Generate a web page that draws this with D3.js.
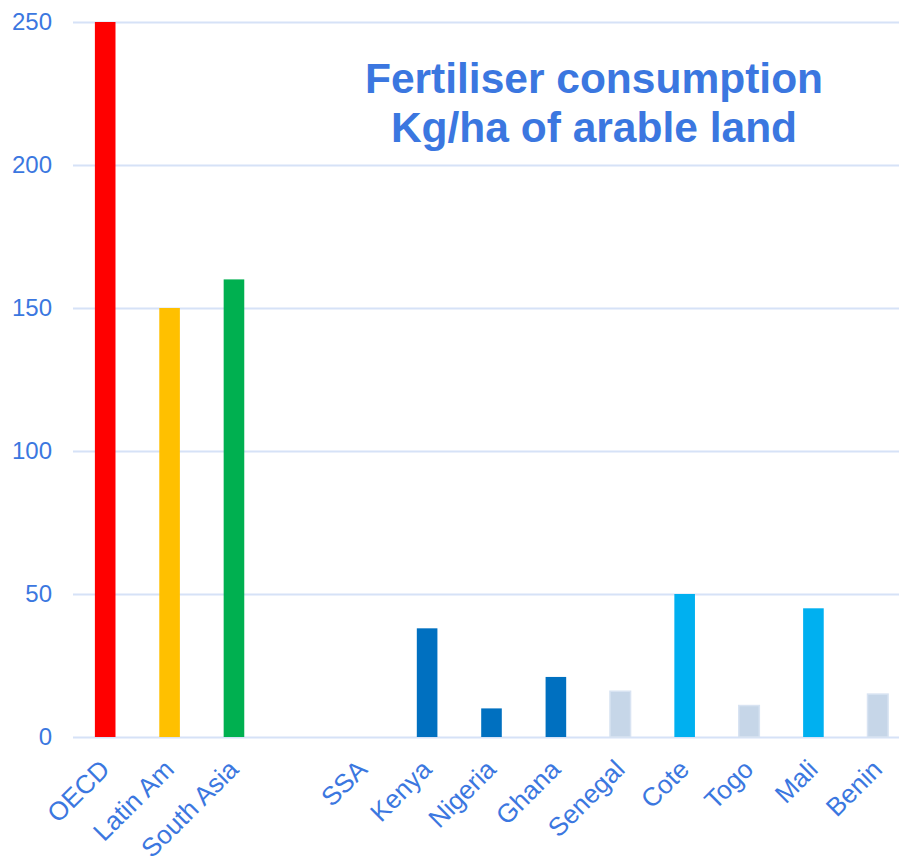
<!DOCTYPE html>
<meta charset="utf-8">
<style>
body { margin: 0; background: #fff; }
svg { font-family: "Liberation Sans", Arial, sans-serif; }
.axis text { fill: #3b77e0; font-size: 24px; }
.axis.xaxis text { font-size: 26px; }
.grid line { stroke: #d6e2f7; stroke-width: 2; }
.title { fill: #3b77e0; font-size: 42.5px; font-weight: bold; }
</style>
<svg width="899" height="858"></svg>
<script src="https://d3js.org/d3.v7.min.js"></script>
<script>

// data
var categories = ["OECD", "Latin Am", "South Asia", "", "SSA", "Kenya", "Nigeria", "Ghana", "Senegal", "Cote", "Togo", "Mali", "Benin"];
var values = [250, 150, 160, null, 0, 38, 10, 21, 16, 50, 11, 45, 15];
var yTicks = [0, 50, 100, 150, 200, 250];
var titleLines = ["Fertiliser consumption", "Kg/ha of arable land"];

var colour = {
  "OECD": "#ff0000", "Latin Am": "#ffc000", "South Asia": "#00b050",
  "SSA": "#0070c0", "Kenya": "#0070c0", "Nigeria": "#0070c0", "Ghana": "#0070c0",
  "Senegal": "#c6d6e8", "Togo": "#c6d6e8", "Benin": "#c6d6e8",
  "Cote": "#00b0f0", "Mali": "#00b0f0"
};

var svg = d3.select("svg"),
    plotLeft = 73, plotRight = 910, plotTop = 22, plotBottom = 737;

var x = d3.scaleBand().domain(categories).range([plotLeft, plotRight]);
var y = d3.scaleLinear().domain([0, 250]).range([plotBottom, plotTop]);

// gridlines + y labels
var yAxis = svg.append("g")
    .attr("class", "axis grid")
    .attr("transform", "translate(" + plotLeft + ",0)")
    .call(d3.axisLeft(y).tickValues(yTicks).tickSize(-(plotRight - plotLeft)).tickPadding(21));
yAxis.select(".domain").remove();

var data = categories.map(function(c, i) { return {name: c, value: values[i]}; })
    .filter(function(d) { return d.value != null; });

var bw = x.bandwidth() * 0.32;

svg.append("g").selectAll("rect")
    .data(data)
    .enter()
    .append("rect")
    .attr("x", function(d) { return x(d.name) + x.bandwidth() / 2 - bw / 2; })
    .attr("y", function(d) { return y(d.value); })
    .attr("width", bw)
    .attr("height", function(d) { return y(0) - y(d.value); })
    .attr("fill", function(d) { return colour[d.name]; })
    .attr("stroke", function(d) { return colour[d.name] == "#c6d6e8" ? "#d8e3f2" : "none"; })
    .attr("stroke-width", 1.5);

// x labels
var xAxis = svg.append("g")
    .attr("class", "axis xaxis")
    .attr("transform", "translate(0," + plotBottom + ")")
    .call(d3.axisBottom(x).tickSize(0).tickFormat(function(d) { return d; }));
xAxis.select(".domain").remove();
xAxis.selectAll("text")
    .attr("text-anchor", "end")
    .attr("dy", null)
    .attr("y", 0)
    .attr("transform", "translate(6,34) rotate(-45)");

// title
svg.append("text")
    .attr("class", "title")
    .attr("x", 594)
    .attr("y", 93)
    .attr("text-anchor", "middle")
    .selectAll("tspan")
    .data(titleLines)
    .enter()
    .append("tspan")
    .attr("x", 594)
    .attr("dy", function(d, i) { return i ? 49 : 0; })
    .text(function(d) { return d; });

</script>
